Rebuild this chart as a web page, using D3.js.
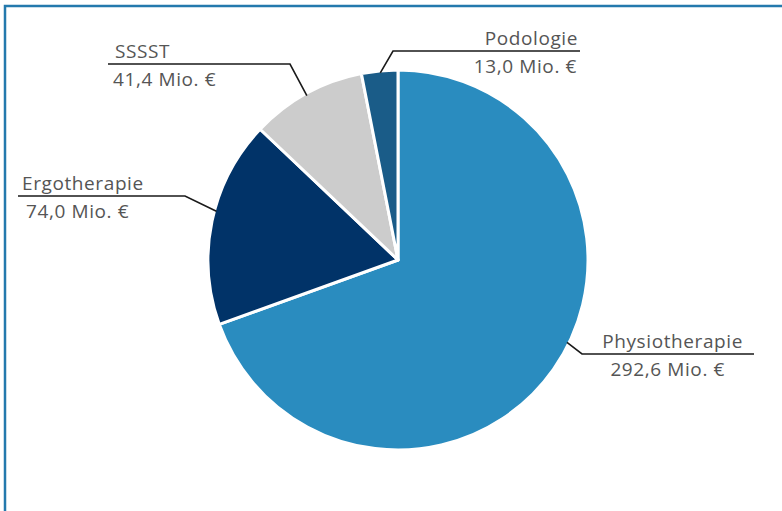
<!DOCTYPE html>
<html>
<head>
<meta charset="utf-8">
<script src="https://cdn.jsdelivr.net/npm/d3@7"></script>
<style>
  html, body { margin: 0; padding: 0; background: #fff; }
  svg { display: block; }
  .lbl { font-family: "Open Sans", sans-serif; font-size: 19px; letter-spacing: 0.6px; fill: #555; }
</style>
</head>
<body>
<div id="chart"></div>
<script>
const categories = ["Physiotherapie", "Ergotherapie", "SSSST", "Podologie"];
const amounts = [292.6, 74.0, 41.4, 13.0];
const valueLabels = ["292,6 Mio. €", "74,0 Mio. €", "41,4 Mio. €", "13,0 Mio. €"];
const sliceColors = ["#2a8cbf", "#013368", "#cccccc", "#1a5c88"];

// leader layout per label: angle on the rim (deg), elbow and end of the shelf, text anchor
const leaders = [
  { angle: 116, elbow: [582, 354], end: 754, anchor: "end", nameX: 743, valueX: 725 },
  { angle: 285, elbow: [185, 196], end: 18, anchor: "start", nameX: 22, valueX: 26 },
  { angle: 331, elbow: [290, 64], end: 108, anchor: "start", nameX: 115, valueX: 113 },
  { angle: 354.6, elbow: [393, 51], end: 580, anchor: "end", nameX: 578, valueX: 577 }
];

const width = 782;
const height = 511;
const cx = 398;
const cy = 260;
const radius = 190;

const svg = d3.select("#chart")
  .append("svg")
  .attr("width", width)
  .attr("height", height);

// blue frame, top and left
svg.append("path")
  .attr("d", `M5,${height} L5,6 L${width},6`)
  .attr("fill", "none")
  .attr("stroke", "#2479ad")
  .attr("stroke-width", 2.5);

const rows = categories.map((name, i) => ({ name, value: amounts[i], label: valueLabels[i], color: sliceColors[i] }));

const pie = d3.pie().sort(null).value((d) => d.value);
const arc = d3.arc().innerRadius(0).outerRadius(radius);

const g = svg.append("g").attr("transform", `translate(${cx},${cy})`);

g.selectAll("path")
  .data(pie(rows))
  .join("path")
  .attr("d", arc)
  .attr("fill", (d) => d.data.color)
  .attr("stroke", "#fff")
  .attr("stroke-width", 3)
  .attr("stroke-linejoin", "round");

rows.forEach((row, i) => {
  const l = leaders[i];
  const a = (l.angle * Math.PI) / 180;
  const sx = cx + Math.sin(a) * (radius - 2);
  const sy = cy - Math.cos(a) * (radius - 2);

  svg.append("polyline")
    .attr("points", `${sx},${sy} ${l.elbow[0]},${l.elbow[1]} ${l.end},${l.elbow[1]}`)
    .attr("fill", "none")
    .attr("stroke", "#1a1a1a")
    .attr("stroke-width", 1.6);

  svg.append("text")
    .attr("class", "lbl")
    .attr("x", l.nameX)
    .attr("y", l.elbow[1] - 6)
    .attr("text-anchor", l.anchor)
    .text(row.name);

  svg.append("text")
    .attr("class", "lbl")
    .attr("x", l.valueX)
    .attr("y", l.elbow[1] + 22)
    .attr("text-anchor", l.anchor)
    .text(row.label);
});
</script>
</body>
</html>
